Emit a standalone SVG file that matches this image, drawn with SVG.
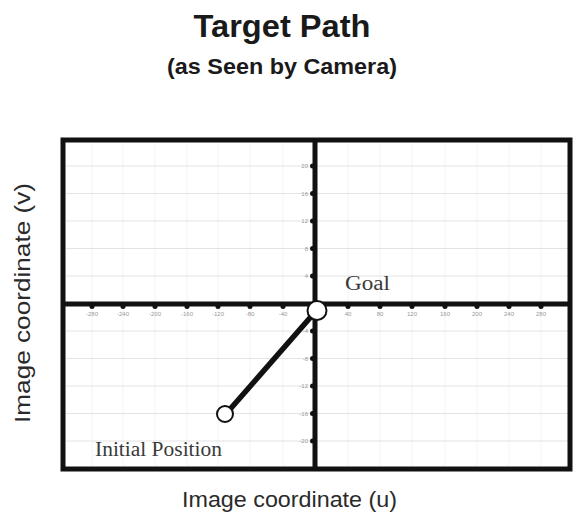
<svg xmlns="http://www.w3.org/2000/svg" width="573" height="517" viewBox="0 0 573 517">
<style>
.title{font-family:"Liberation Sans",Arial,sans-serif;font-weight:bold;fill:#1a1a1a;text-anchor:middle}
.axlab{font-family:"Liberation Sans",Arial,sans-serif;font-size:22px;fill:#2a2a2a;text-anchor:middle}
.lab{font-family:"Liberation Serif","DejaVu Serif",serif;font-size:20px;fill:#3a3a3a}
.tick{font-family:"Liberation Sans",Arial,sans-serif;font-size:6px;fill:#999}
.grid{stroke:#dcdcdc;stroke-width:0.8;fill:none}
.frame{stroke:#111;stroke-width:5;fill:none}
.axis{stroke:#111;stroke-width:5}
.tm{fill:#111}
.node{fill:#fff;stroke:#111;stroke-width:2}
.path{stroke:#111;stroke-width:5.5;stroke-linecap:round;fill:none}
</style>
<rect width="573" height="517" fill="#fff"/>
<g id="title">
<text class="title" x="282" y="37" font-size="31" textLength="177" lengthAdjust="spacingAndGlyphs">Target Path</text>
<text class="title" x="282" y="74" font-size="22" textLength="230" lengthAdjust="spacingAndGlyphs">(as Seen by Camera)</text>
</g>
<g id="grid">
<path class="grid" d="M66 166H568M66 193.5H568M66 221H568M66 248.5H568M66 276H568M66 331H568M66 358.5H568M66 386H568M66 413.5H568M66 441H568"/>
<path class="grid" stroke-opacity="0.45" d="M92 143V466M123 143V466M155 143V466M187 143V466M218 143V466M250 143V466M283 143V466M348 143V466M380 143V466M412 143V466M445 143V466M477 143V466M509 143V466M541 143V466"/>
</g>
<g id="plot-frame">
<rect class="frame" x="63" y="140" width="507" height="329"/>
<line class="axis" x1="63" y1="304" x2="570" y2="304"/>
<line class="axis" x1="315" y1="140" x2="315" y2="469"/>
<g class="tm">
<circle cx="92" cy="306.5" r="2.5"/><circle cx="123" cy="306.5" r="2.5"/><circle cx="155" cy="306.5" r="2.5"/><circle cx="187" cy="306.5" r="2.5"/><circle cx="218" cy="306.5" r="2.5"/><circle cx="250" cy="306.5" r="2.5"/><circle cx="283" cy="306.5" r="2.5"/>
<circle cx="348" cy="306.5" r="2.5"/><circle cx="380" cy="306.5" r="2.5"/><circle cx="412" cy="306.5" r="2.5"/><circle cx="445" cy="306.5" r="2.5"/><circle cx="477" cy="306.5" r="2.5"/><circle cx="509" cy="306.5" r="2.5"/><circle cx="541" cy="306.5" r="2.5"/>
<circle cx="312.5" cy="166" r="2.5"/><circle cx="312.5" cy="193.5" r="2.5"/><circle cx="312.5" cy="221" r="2.5"/><circle cx="312.5" cy="248.5" r="2.5"/><circle cx="312.5" cy="276" r="2.5"/>
<circle cx="312.5" cy="331" r="2.5"/><circle cx="312.5" cy="358.5" r="2.5"/><circle cx="312.5" cy="386" r="2.5"/><circle cx="312.5" cy="413.5" r="2.5"/><circle cx="312.5" cy="441" r="2.5"/>
</g>
<g class="tick" text-anchor="middle">
<text x="92" y="316">-280</text><text x="123" y="316">-240</text><text x="155" y="316">-200</text><text x="187" y="316">-160</text><text x="218" y="316">-120</text><text x="250" y="316">-80</text><text x="283" y="316">-40</text>
<text x="348" y="316">40</text><text x="380" y="316">80</text><text x="412" y="316">120</text><text x="445" y="316">160</text><text x="477" y="316">200</text><text x="509" y="316">240</text><text x="541" y="316">280</text>
</g>
<g class="tick" text-anchor="end">
<text x="308" y="168">20</text><text x="308" y="195.5">16</text><text x="308" y="223">12</text><text x="308" y="250.5">8</text><text x="308" y="278">4</text>
<text x="308" y="333">-4</text><text x="308" y="360.5">-8</text><text x="308" y="388">-12</text><text x="308" y="415.5">-16</text><text x="308" y="443">-20</text>
</g>
</g>
<g id="connectors">
<line class="path" x1="225" y1="415" x2="316" y2="311"/>
</g>
<g id="goal">
<circle class="node" cx="317" cy="310.5" r="9.5"/>
<text class="lab" x="345" y="290" textLength="45" lengthAdjust="spacingAndGlyphs">Goal</text>
</g>
<g id="initial-position">
<circle class="node" cx="225" cy="414" r="8"/>
<text class="lab" x="95" y="456" textLength="127" lengthAdjust="spacingAndGlyphs">Initial Position</text>
</g>
<g id="axis-labels">
<text class="axlab" x="289.5" y="507" textLength="215" lengthAdjust="spacingAndGlyphs">Image coordinate (u)</text>
<text class="axlab" transform="translate(30 303) rotate(-90)" x="0" y="0" textLength="240" lengthAdjust="spacingAndGlyphs">Image coordinate (v)</text>
</g>
</svg>
